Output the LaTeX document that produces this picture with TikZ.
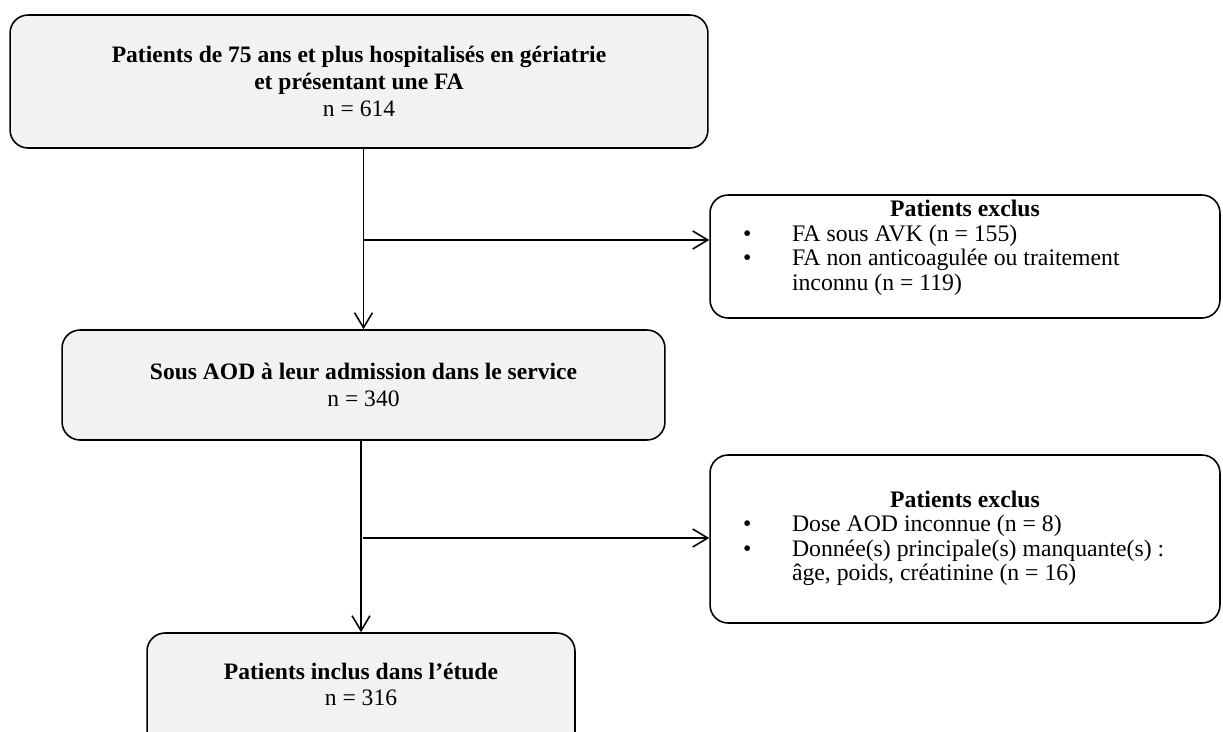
\documentclass[tikz,border=0pt]{standalone}
\usepackage{fontspec}
\setmainfont{Liberation Serif}
\usetikzlibrary{arrows.meta}
\definecolor{boxgray}{HTML}{F2F2F2}
\begin{document}
\begin{tikzpicture}[x=0.02cm,y=-0.02cm,
    mainbox/.style={draw=black, line width=0.9pt, rounded corners=0.36cm, fill=boxgray, align=center, font=\fontsize{13.4}{15.3}\selectfont},
    exclbox/.style={draw=black, line width=0.9pt, rounded corners=0.36cm, fill=white, minimum width=10.2cm, inner sep=0pt, font=\fontsize{13.5}{14}\selectfont},
    arr/.style={-{Straight Barb[length=0.3cm,width=0.36cm]}, line width=0.9pt}]
    \useasboundingbox (0,0) rectangle (1223,731);

    % main flow
    \node[mainbox, minimum width=13.96cm, minimum height=2.66cm] (all) at (359,81.5)
        {\textbf{Patients de 75 ans et plus hospitalisés en gériatrie}\\ \textbf{et présentant une FA}\\ n = 614};
    \node[mainbox, minimum width=12.06cm, minimum height=2.2cm] (aod) at (363.5,385)
        {\textbf{Sous AOD à leur admission dans le service}\\ n = 340};
    \node[mainbox, minimum width=8.56cm, minimum height=2.5cm, text depth=0.45cm] (incl) at (361,695.5)
        {\textbf{Patients inclus dans l’étude}\\ n = 316};

    % exclusions
    \node[exclbox, minimum height=2.46cm] (excla) at (965,256.5)
        {\begin{tabular}{@{}p{0.98cm}@{}p{7.9cm}@{}}
         \multicolumn{2}{c}{\textbf{Patients exclus}}\\
         \textbullet & FA sous AVK (n = 155)\\
         \textbullet & FA non anticoagulée ou traitement\\
                     & inconnu (n = 119)\\[0.32cm]
         \end{tabular}};
    \node[exclbox, minimum height=3.36cm] (exclb) at (965,539)
        {\begin{tabular}{@{}p{0.98cm}@{}p{7.9cm}@{}}
         \multicolumn{2}{c}{\textbf{Patients exclus}}\\
         \textbullet & Dose AOD inconnue (n = 8)\\
         \textbullet & Donnée(s) principale(s) manquante(s) :\\
                     & âge, poids, créatinine (n = 16)
         \end{tabular}};

    \coordinate (ja) at (363,240);
    \coordinate (jb) at (363,538);

    \path [arr] (all.south -| aod.north) edge (aod.north);
    \path [arr] (aod.south -| incl.north) edge (incl.north);
    \path [arr] (ja) edge (ja -| excla.west);
    \path [arr] (jb) edge (jb -| exclb.west);
\end{tikzpicture}
\end{document}
